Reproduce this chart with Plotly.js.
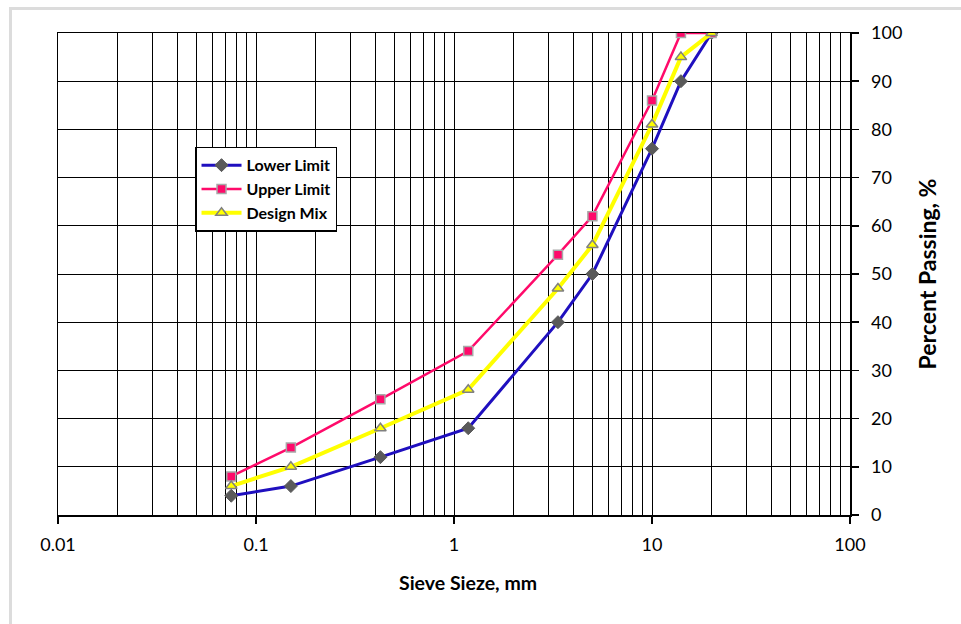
<!DOCTYPE html>
<html>
<head>
<meta charset="utf-8">
<script src="https://cdn.plot.ly/plotly-3.0.1.min.js"></script>
<style>
html,body{margin:0;padding:0;background:#fff;}
#wrap{position:relative;width:961px;height:624px;overflow:hidden;}
#chart{position:absolute;left:0;top:0;width:961px;height:624px;}
#frame{position:absolute;left:9px;top:7px;width:1000px;height:1000px;border:3px solid #dcdcdc;pointer-events:none;}
</style>
</head>
<body>
<div id="wrap"><div id="chart"></div><div id="frame"></div></div>
<script>
// Data
const sieveSizes = [0.075, 0.15, 0.425, 1.18, 3.35, 5, 10, 14, 20];
const lowerLimit = [4, 6, 12, 18, 40, 50, 76, 90, 100];
const upperLimit = [8, 14, 24, 34, 54, 62, 86, 100, 100];
const designMix  = [6, 10, 18, 26, 47, 56, 81, 95, 100];
const seriesNames = ['Lower Limit', 'Upper Limit', 'Design Mix'];
const xMajorTicks = [0.01, 0.1, 1, 10, 100];
const xMajorLabels = ['0.01', '0.1', '1', '10', '100'];
const yTicks = [0, 10, 20, 30, 40, 50, 60, 70, 80, 90, 100];
const xTitle = 'Sieve Sieze, mm';
const yTitle = 'Percent Passing, %';

// minor grid positions (2..9 within each decade)
const minorVals = [];
for (let d = 0; d < xMajorTicks.length - 1; d++) {
  for (let m = 2; m <= 9; m++) minorVals.push(xMajorTicks[d] * m);
}

const font = "Lato, 'Open Sans', Arial, sans-serif";

const traces = [
  {
    x: sieveSizes, y: lowerLimit, name: seriesNames[0], type: 'scatter', mode: 'lines+markers',
    line: {color: '#1f0fbf', width: 3},
    marker: {symbol: 'diamond', size: 10, color: '#5a5a5a', line: {color: '#5a5a5a', width: 1}}
  },
  {
    x: sieveSizes, y: upperLimit, name: seriesNames[1], type: 'scatter', mode: 'lines+markers',
    line: {color: '#ff0a6a', width: 2.5},
    marker: {symbol: 'square', size: 9, color: '#ff0a6a', line: {color: '#a8a8a8', width: 1.5}}
  },
  {
    x: sieveSizes, y: designMix, name: seriesNames[2], type: 'scatter', mode: 'lines+markers',
    line: {color: '#ffff00', width: 4},
    marker: {symbol: 'triangle-up', size: 10, color: '#ffff00', line: {color: '#808080', width: 1.5}}
  }
];

const layout = {
  width: 961, height: 624,
  margin: {l: 58, r: 111, t: 33, b: 109, pad: 0},
  paper_bgcolor: '#ffffff', plot_bgcolor: '#ffffff',
  font: {family: font, size: 18, color: '#000'},
  showlegend: true,
  legend: {
    x: 0.173, y: 0.764, xanchor: 'left', yanchor: 'top',
    bgcolor: '#ffffff', bordercolor: '#000000', borderwidth: 1.5,
    font: {family: font, size: 16, color: '#000', weight: 'bold'},
    tracegroupgap: 0, itemwidth: 40
  },
  xaxis: {
    type: 'log', range: [-2, 2],
    tickmode: 'array', tickvals: xMajorTicks, ticktext: xMajorLabels,
    ticks: 'outside', ticklen: 7, tickwidth: 1.5, tickcolor: '#000',
    ticklabelstandoff: 6,
    showgrid: true, gridcolor: '#000', gridwidth: 1,
    minor: {tickmode: 'array', tickvals: minorVals, showgrid: true, gridcolor: '#000', gridwidth: 1, ticks: ''},
    showline: true, linecolor: '#000', linewidth: 1.5, mirror: true,
    zeroline: false,
    tickfont: {family: font, size: 18, color: '#000'}
  },
  yaxis: {
    side: 'right', range: [0, 100],
    tickmode: 'array', tickvals: yTicks,
    ticks: 'outside', ticklen: 7, tickwidth: 1.5, tickcolor: '#000',
    ticklabelstandoff: 9,
    showgrid: true, gridcolor: '#000', gridwidth: 1,
    showline: true, linecolor: '#000', linewidth: 1.5, mirror: true,
    zeroline: false,
    tickfont: {family: font, size: 18, color: '#000'},
    title: {text: yTitle, font: {family: font, size: 23, color: '#000', weight: 'bold'}, standoff: 18}
  },
  annotations: [{
    text: xTitle, xref: 'paper', yref: 'paper', x: 0.5177, y: -0.141,
    xanchor: 'center', yanchor: 'middle', showarrow: false,
    font: {family: font, size: 19.5, color: '#000', weight: 'bold'}
  }]
};

Plotly.newPlot('chart', traces, layout, {displayModeBar: false, staticPlot: true});
</script>
</body>
</html>
